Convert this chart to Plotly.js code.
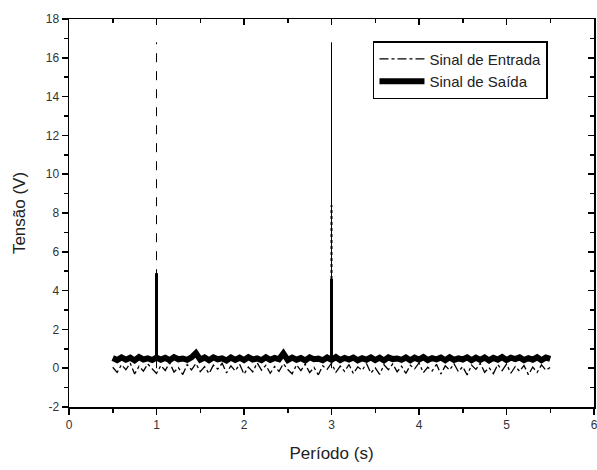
<!DOCTYPE html>
<html>
<head>
<meta charset="utf-8">
<script src="https://cdn.plot.ly/plotly-3.0.1.min.js"></script>
<style>html,body{margin:0;padding:0;background:#fff;}#chart{width:597px;height:470px;}</style>
</head>
<body>
<div id="chart"></div>
<script>
// Time samples (s)
const tempo = [0.50,0.55,0.60,0.65,0.70,0.75,0.80,0.85,0.90,0.95,
  1.00,1.05,1.10,1.15,1.20,1.25,1.30,1.35,1.40,1.45,
  1.50,1.55,1.60,1.65,1.70,1.75,1.80,1.85,1.90,1.95,
  2.00,2.05,2.10,2.15,2.20,2.25,2.30,2.35,2.40,2.45,
  2.50,2.55,2.60,2.65,2.70,2.75,2.80,2.85,2.90,2.95,
  3.00,3.05,3.10,3.15,3.20,3.25,3.30,3.35,3.40,3.45,
  3.50,3.55,3.60,3.65,3.70,3.75,3.80,3.85,3.90,3.95,
  4.00,4.05,4.10,4.15,4.20,4.25,4.30,4.35,4.40,4.45,
  4.50,4.55,4.60,4.65,4.70,4.75,4.80,4.85,4.90,4.95,
  5.00,5.05,5.10,5.15,5.20,5.25,5.30,5.35,5.40,5.45,5.50];

// Input signal (V), noise around 0
const entrada = [0.05,-0.22,0.18,-0.08,0.26,-0.30,0.10,-0.15,0.22,-0.05,
  -0.27,0.14,-0.12,0.28,-0.20,0.03,-0.33,0.19,-0.09,0.24,
  -0.18,0.08,-0.28,0.16,-0.04,0.25,-0.24,0.12,-0.14,0.20,
  -0.31,0.06,-0.19,0.27,-0.10,0.15,-0.26,0.09,-0.16,0.23,
  -0.07,-0.29,0.17,-0.13,0.21,-0.23,0.04,-0.34,0.13,-0.06,
  0.26,-0.21,0.11,-0.17,0.19,-0.28,0.07,-0.11,0.24,-0.25,
  0.02,-0.32,0.18,-0.08,0.22,-0.19,0.10,-0.27,0.15,-0.03,
  0.27,-0.23,0.05,-0.14,0.20,-0.30,0.12,-0.09,0.23,-0.18,
  0.08,-0.35,0.16,-0.06,0.25,-0.21,0.03,-0.28,0.19,-0.12,
  0.21,-0.26,0.09,-0.16,0.14,-0.33,0.06,-0.22,0.17,-0.10,0.04];

// Output signal (V), band around 0.5
const saida = [0.52,0.42,0.56,0.44,0.54,0.40,0.57,0.45,0.51,0.42,
  0.55,0.44,0.53,0.41,0.57,0.46,0.50,0.43,0.56,0.78,
  0.44,0.55,0.41,0.56,0.46,0.51,0.40,0.55,0.43,0.54,
  0.42,0.57,0.45,0.50,0.41,0.56,0.43,0.53,0.46,0.76,
  0.42,0.55,0.44,0.52,0.40,0.56,0.46,0.49,0.41,0.55,
  0.43,0.57,0.42,0.53,0.45,0.55,0.41,0.51,0.44,0.56,
  0.42,0.54,0.40,0.56,0.47,0.50,0.43,0.55,0.41,0.54,
  0.44,0.57,0.42,0.52,0.46,0.55,0.41,0.56,0.43,0.51,
  0.45,0.56,0.41,0.54,0.43,0.55,0.40,0.53,0.44,0.57,
  0.42,0.54,0.47,0.56,0.42,0.52,0.44,0.56,0.41,0.55,0.48];

// Pulses
const picoTempo = [1.0, 3.0];
const picoEntrada = [16.8, 16.8];
const picoSaida = [4.9, 4.6];
const picoSaidaIntermedio = [null, 8.4];

const xTickVals = [0,1,2,3,4,5,6];
const xTickText = ['0','1','2','3','4','5','6'];
const yTickVals = [-2,0,2,4,6,8,10,12,14,16,18];
const yTickText = ['-2','0','2','4','6','8','10','12','14','16','18'];

const FONT = 'Liberation Sans, Arial, sans-serif';

const traces = [];
traces.push({x: tempo, y: entrada, type: 'scatter', mode: 'lines', name: 'Sinal de Entrada',
  line: {color: '#000', width: 1.3, dash: 'dashdot'}});
traces.push({x: tempo, y: saida, type: 'scatter', mode: 'lines', name: 'Sinal de Saída',
  line: {color: '#000', width: 6}});

picoTempo.forEach((t, i) => {
  traces.push({x: [t, t], y: [0, picoEntrada[i]], type: 'scatter', mode: 'lines', showlegend: false,
    hoverinfo: 'skip', line: {color: '#000', width: 1, dash: i === 0 ? 'dash' : 'solid'}});
  if (picoSaidaIntermedio[i] !== null) {
    traces.push({x: [t, t], y: [picoSaida[i], picoSaidaIntermedio[i]], type: 'scatter', mode: 'lines',
      showlegend: false, hoverinfo: 'skip', line: {color: '#000', width: 2, dash: 'dot'}});
  }
  traces.push({x: [t, t], y: [0.4, picoSaida[i]], type: 'scatter', mode: 'lines', showlegend: false,
    hoverinfo: 'skip', line: {color: '#000', width: 3}});
});

// invisible trace so that the mirrored top/right axes are drawn
traces.push({x: [0], y: [-2], xaxis: 'x2', yaxis: 'y2', type: 'scatter', mode: 'markers',
  marker: {opacity: 0}, showlegend: false, hoverinfo: 'skip'});

const axCommon = {showgrid: false, zeroline: false, showline: true, linecolor: '#000', linewidth: 1.5,
  tickcolor: '#000', tickwidth: 1.5, ticklen: 6, tickmode: 'array', fixedrange: true};

const layout = {
  width: 597, height: 470,
  margin: {l: 69, r: 3, t: 19, b: 63},
  paper_bgcolor: '#fff', plot_bgcolor: '#fff',
  font: {family: FONT, color: '#222', size: 12},
  showlegend: true,
  legend: {x: 0.579, y: 0.943, xanchor: 'left', yanchor: 'top', bgcolor: '#fff',
    bordercolor: '#000', borderwidth: 1.5, font: {family: FONT, size: 15, color: '#222'},
    itemwidth: 45, tracegroupgap: 0},
  xaxis: Object.assign({}, axCommon, {range: [0, 6], tickvals: xTickVals, ticktext: xTickText,
    ticks: 'outside', minor: {dtick: 0.5, ticks: 'outside', ticklen: 4, tickwidth: 1.5, tickcolor: '#000'},
    tickfont: {size: 12, color: '#333'}, ticklabeloverflow: 'allow',
    title: {text: 'Período (s)', font: {size: 17, color: '#222'}, standoff: 16}}),
  yaxis: Object.assign({}, axCommon, {range: [-2, 18], tickvals: yTickVals, ticktext: yTickText,
    ticks: 'outside', minor: {dtick: 1, ticks: 'outside', ticklen: 4, tickwidth: 1.5, tickcolor: '#000'},
    tickfont: {size: 12, color: '#333'},
    title: {text: 'Tensão (V)', font: {size: 17, color: '#222'}, standoff: 16}}),
  xaxis2: Object.assign({}, axCommon, {range: [0, 6], overlaying: 'x', side: 'top', anchor: 'y',
    tickvals: xTickVals, ticktext: xTickText, showticklabels: false, ticks: 'inside',
    minor: {dtick: 0.5, ticks: 'inside', ticklen: 4, tickwidth: 1.5, tickcolor: '#000'}}),
  yaxis2: Object.assign({}, axCommon, {range: [-2, 18], overlaying: 'y', side: 'right', anchor: 'x',
    tickvals: yTickVals, ticktext: yTickText, showticklabels: false, ticks: 'inside',
    minor: {dtick: 1, ticks: 'inside', ticklen: 4, tickwidth: 1.5, tickcolor: '#000'}})
};

Plotly.newPlot('chart', traces, layout, {staticPlot: true, displayModeBar: false});
</script>
</body>
</html>
